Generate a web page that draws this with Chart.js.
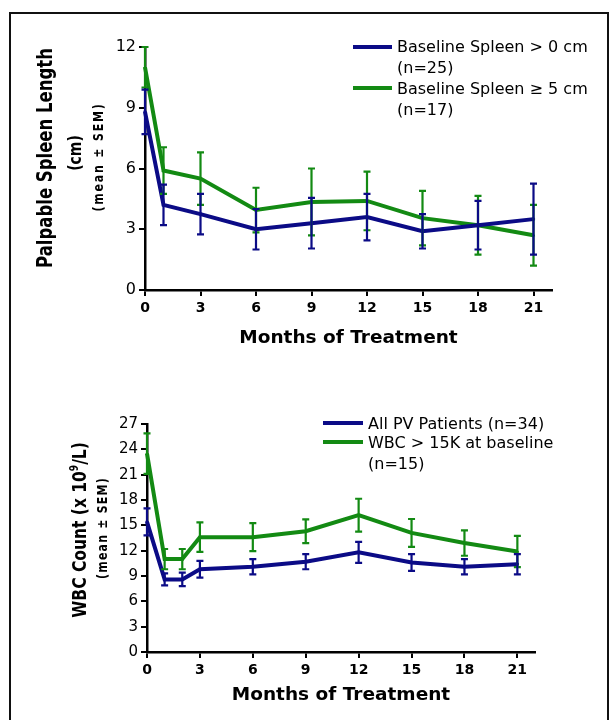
<!DOCTYPE html>
<html lang="en">
<head>
  <meta charset="utf-8">
  <title>Spleen length and WBC count</title>
  <style>
    html, body { margin: 0; padding: 0; background: #fff; }
    body { width: 610px; height: 720px; position: relative; overflow: hidden; font-family: 'DejaVu Sans', sans-serif; color: #000; }
    .frame { position: absolute; left: 9px; top: 12px; width: 600px; height: 800px; border: 2px solid #111; box-sizing: border-box; }
    .panel { position: absolute; left: 0; width: 610px; height: 360px; }
    .ytitle { position: absolute; white-space: nowrap; font-weight: bold; transform: translate(-50%, -50%) rotate(-90deg) scale(1, 1.3); }
    .leg { position: absolute; font-size: 16px; line-height: 21px; white-space: nowrap; }
    .legline { position: absolute; height: 4px; }
    .legmark { position: absolute; width: 4px; height: 4px; }
  </style>
</head>
<body>
  <div class="frame"></div>

  <div class="panel" style="top:0">
    <canvas id="spleen" width="610" height="360"></canvas>
  </div>
  <div class="panel" style="top:360px">
    <canvas id="wbc" width="610" height="360"></canvas>
  </div>

  <!-- y axis titles -->
  <div class="ytitle" style="left:45px; top:158px; font-size:16.5px">Palpable Spleen Length</div>
  <div class="ytitle" style="left:74px; top:153px; font-size:14px">(cm)</div>
  <div class="ytitle" style="left:98px; top:157px; font-size:11px; letter-spacing:1.8px">(mean ± SEM)</div>
  <div class="ytitle" style="left:79px; top:530px; font-size:15.5px">WBC Count (x 10<sup style="font-size:9px">9</sup>/L)</div>
  <div class="ytitle" style="left:102px; top:528px; font-size:11px; letter-spacing:1.2px">(mean ± SEM)</div>

  <!-- legends -->
  <div class="legline" style="left:353px; top:45px; width:39px; background:#0b0b86"></div>
  <div class="legmark" style="left:371px; top:45px; background:#0b0b86"></div>
  <div class="leg" style="left:397px; top:36px">Baseline Spleen &gt; 0 cm<br>(n=25)</div>
  <div class="legline" style="left:353px; top:86px; width:39px; background:#138a13"></div>
  <div class="legmark" style="left:371px; top:86px; background:#138a13"></div>
  <div class="leg" style="left:397px; top:78px">Baseline Spleen ≥ 5 cm<br>(n=17)</div>

  <div class="legline" style="left:323px; top:421px; width:40px; background:#0b0b86"></div>
  <div class="legmark" style="left:341px; top:421px; background:#0b0b86"></div>
  <div class="leg" style="left:368px; top:413px">All PV Patients (n=34)</div>
  <div class="legline" style="left:323px; top:440px; width:40px; background:#138a13"></div>
  <div class="legmark" style="left:341px; top:440px; background:#138a13"></div>
  <div class="leg" style="left:368px; top:432px">WBC &gt; 15K at baseline<br>(n=15)</div>

  <script src="https://cdn.jsdelivr.net/npm/chart.js"></script>
  <script>
    // months on the x axis
    var SPLEEN_MONTHS = [0, 1, 3, 6, 9, 12, 15, 18, 21];
    var WBC_MONTHS = [0, 1, 2, 3, 6, 9, 12, 15, 18, 21];
    var X_TICKS = [0, 3, 6, 9, 12, 15, 18, 21];

    // palpable spleen length (cm), mean and SEM
    var SPLEEN_ALL = [8.8, 4.2, 3.75, 3.0, 3.3, 3.6, 2.9, 3.2, 3.5];
    var SPLEEN_ALL_SEM = [1.1, 1.0, 1.0, 1.0, 1.25, 1.15, 0.85, 1.2, 1.75];
    var SPLEEN_5 = [11.0, 5.9, 5.5, 3.95, 4.35, 4.4, 3.55, 3.2, 2.7];
    var SPLEEN_5_SEM = [1.0, 1.15, 1.3, 1.1, 1.65, 1.45, 1.35, 1.45, 1.5];
    var SPLEEN_Y_TICKS = [0, 3, 6, 9, 12];

    // WBC count (x 10^9/L), mean and SEM
    var WBC_ALL = [15.4, 8.6, 8.6, 9.8, 10.1, 10.7, 11.8, 10.6, 10.1, 10.4];
    var WBC_ALL_SEM = [1.6, 0.7, 0.8, 1.0, 0.9, 0.9, 1.25, 1.0, 0.9, 1.2];
    var WBC_15K = [23.5, 11.0, 11.0, 13.6, 13.6, 14.3, 16.2, 14.1, 12.9, 11.9];
    var WBC_15K_SEM = [2.4, 1.2, 1.2, 1.75, 1.65, 1.4, 1.95, 1.65, 1.5, 1.85];
    var WBC_Y_TICKS = [0, 3, 6, 9, 12, 15, 18, 21, 24, 27];

    var BLUE = '#0b0b86';
    var GREEN = '#138a13';

    Chart.defaults.font.family = "'DejaVu Sans', sans-serif";
    Chart.defaults.color = '#000';

    function points(months, values) {
      return months.map(function (m, i) { return { x: m, y: values[i] }; });
    }

    // vertical SEM bars with caps, placed with the chart scales
    var errorBars = {
      id: 'errorBars',
      afterDatasetsDraw: function (chart) {
        var ctx = chart.ctx;
        var xs = chart.scales.x, ys = chart.scales.y;
        for (var i = chart.data.datasets.length - 1; i >= 0; i--) {
          var ds = chart.data.datasets[i];
          ctx.save();
          ctx.strokeStyle = ds.borderColor;
          ctx.lineWidth = 2.2;
          ds.data.forEach(function (p, j) {
            var px = xs.getPixelForValue(p.x);
            var top = ys.getPixelForValue(p.y + ds.sem[j]);
            var bot = ys.getPixelForValue(p.y - ds.sem[j]);
            ctx.beginPath();
            ctx.moveTo(px, top); ctx.lineTo(px, bot);
            ctx.moveTo(px - 3.5, top); ctx.lineTo(px + 3.5, top);
            ctx.moveTo(px - 3.5, bot); ctx.lineTo(px + 3.5, bot);
            ctx.stroke();
          });
          ctx.restore();
        }
      }
    };

    function lineSet(label, data, sem, color, style) {
      return {
        label: label,
        data: data,
        sem: sem,
        borderColor: color,
        backgroundColor: color,
        borderWidth: 4,
        pointRadius: 1.5,
        pointBorderWidth: 1,
        pointStyle: style,
        tension: 0,
        clip: false
      };
    }

    function makeChart(id, datasets, yMax, yTicks, cfg) {
      return new Chart(document.getElementById(id), {
        type: 'line',
        data: { datasets: datasets },
        plugins: [errorBars],
        options: {
          responsive: false,
          animation: false,
          layout: { padding: cfg.padding },
          plugins: { legend: { display: false }, tooltip: { enabled: false } },
          scales: {
            x: {
              type: 'linear',
              min: 0, max: 22,
              afterBuildTicks: function (s) { s.ticks = X_TICKS.map(function (v) { return { value: v }; }); },
              afterFit: function (s) { s.height = cfg.xHeight; },
              grid: { drawOnChartArea: false, color: '#000', lineWidth: 2, tickLength: 6 },
              border: { color: '#000', width: 2.5 },
              ticks: { font: { size: 14, weight: 'bold' }, padding: 4, maxRotation: 0 },
              title: {
                display: true,
                text: 'Months of Treatment',
                font: { size: 18.5, weight: 'bold' },
                padding: { top: 0, bottom: 0 }
              }
            },
            y: {
              min: 0, max: yMax,
              afterBuildTicks: function (s) { s.ticks = yTicks.map(function (v) { return { value: v }; }); },
              afterFit: function (s) { s.width = cfg.yWidth; },
              grid: { drawOnChartArea: false, color: '#000', lineWidth: 2, tickLength: 6 },
              border: { color: '#000', width: 2.5 },
              ticks: { font: { size: cfg.yFont }, padding: 3 }
            }
          }
        }
      });
    }

    makeChart('spleen', [
      lineSet('Baseline Spleen > 0 cm (n=25)', points(SPLEEN_MONTHS, SPLEEN_ALL), SPLEEN_ALL_SEM, BLUE, 'rect'),
      lineSet('Baseline Spleen ≥ 5 cm (n=17)', points(SPLEEN_MONTHS, SPLEEN_5), SPLEEN_5_SEM, GREEN, 'triangle')
    ], 12, SPLEEN_Y_TICKS, {
      padding: { left: 0, right: 58, top: 47, bottom: 11 },
      yWidth: 145, xHeight: 59, yFont: 16
    });

    makeChart('wbc', [
      lineSet('All PV Patients (n=34)', points(WBC_MONTHS, WBC_ALL), WBC_ALL_SEM, BLUE, 'rect'),
      lineSet('WBC > 15K at baseline (n=15)', points(WBC_MONTHS, WBC_15K), WBC_15K_SEM, GREEN, 'triangle')
    ], 27, WBC_Y_TICKS, {
      padding: { left: 0, right: 75, top: 64, bottom: 14 },
      yWidth: 147, xHeight: 54, yFont: 15
    });
  </script>
</body>
</html>
